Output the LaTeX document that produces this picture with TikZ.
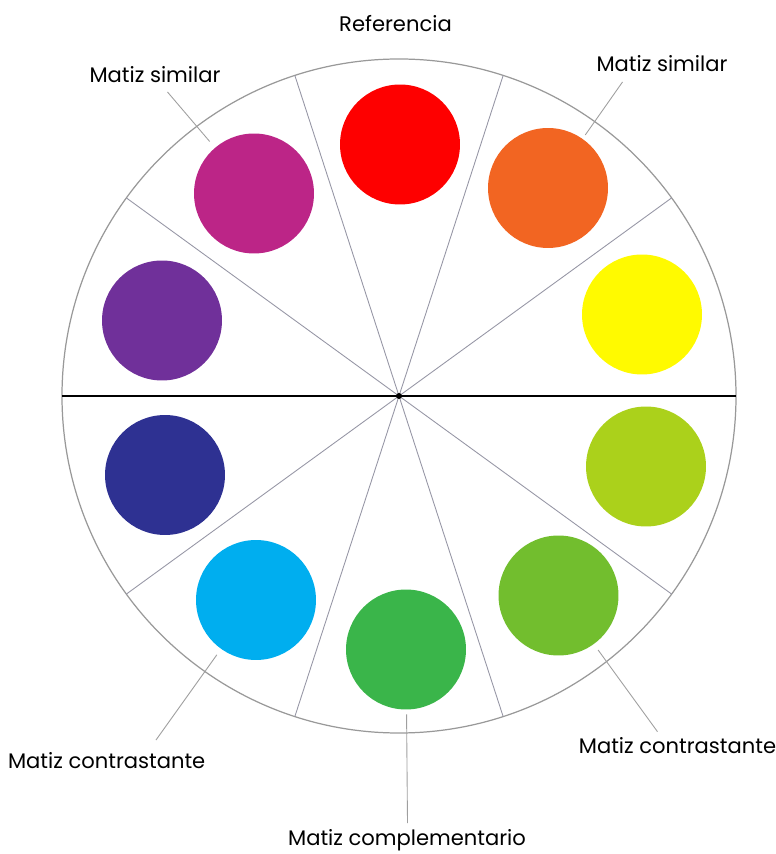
\documentclass[tikz,border=0pt]{standalone}
\usepackage{fontspec}
\setmainfont{Poppins}
\usetikzlibrary{calc}

\definecolor{rojo}{HTML}{FE0000}
\definecolor{naranja}{HTML}{F26522}
\definecolor{amarillo}{HTML}{FFFA00}
\definecolor{limon}{HTML}{ABD11B}
\definecolor{verdeclaro}{HTML}{72BE2E}
\definecolor{verde}{HTML}{3AB54A}
\definecolor{celeste}{HTML}{00AEEF}
\definecolor{azul}{HTML}{2E3192}
\definecolor{violeta}{HTML}{70309A}
\definecolor{magenta}{HTML}{BC2587}
\definecolor{trazo}{RGB}{150,150,165}

\begin{document}
\begin{tikzpicture}[x=0.02cm,y=0.02cm,
  disco/.style={circle,inner sep=0,minimum size=2.4cm},
  radio/.style={draw=trazo,line width=0.5pt},
  guia/.style={draw=gray!75,line width=0.5pt},
  rotulo/.style={anchor=base,inner sep=0,font=\fontsize{12}{14}\selectfont}]
\useasboundingbox (-399,-458) rectangle (377,396);
\draw[gray!80,line width=0.7pt] (0,0) circle (337);
\foreach \a in {36,72,108,144,216,252,288,324}
  \draw[radio] (0,0) -- (\a:337);
\draw[line width=1.1pt] (180:337) -- (0:337);
\fill (0,0) circle (3);
\node[disco,fill=rojo] (rojo) at (1,251.5) {};
\node[disco,fill=naranja] (naranja) at (149,208) {};
\node[disco,fill=amarillo] (amarillo) at (243,81.5) {};
\node[disco,fill=limon] (limon) at (247,-70.5) {};
\node[disco,fill=verdeclaro] (verdeclaro) at (159.5,-199.5) {};
\node[disco,fill=verde] (verde) at (7,-253.5) {};
\node[disco,fill=celeste] (celeste) at (-143,-204) {};
\node[disco,fill=azul] (azul) at (-234,-79) {};
\node[disco,fill=violeta] (violeta) at (-237,75.5) {};
\node[disco,fill=magenta] (magenta) at (-145,202.5) {};
\node[rotulo] (ref) at (-3.5,364.3) {Referencia};
\node[rotulo] (simL) at (-244,313) {Matiz similar};
\node[rotulo] (simR) at (263,324.3) {Matiz similar};
\node[rotulo] (contL) at (-292.3,-372) {Matiz contrastante};
\node[rotulo] (contR) at (278.5,-357) {Matiz contrastante};
\node[rotulo] (comp) at (8,-449) {Matiz complementario};
\coordinate (pSimL) at (-231.5,304);
\coordinate (pSimR) at (223.5,314);
\coordinate (pContL) at (-243,-344);
\coordinate (pContR) at (258.5,-335.7);
\coordinate (pComp) at (8.5,-427);
\draw[guia,shorten >=0.16cm] (pSimL) -- (magenta);
\draw[guia,shorten >=0.09cm] (pSimR) -- (naranja);
\draw[guia,shorten >=0.14cm] (pContL) -- (celeste);
\draw[guia,shorten >=0.14cm] (pContR) -- (verdeclaro);
\draw[guia,shorten >=0.09cm] (pComp) -- (verde);
\end{tikzpicture}
\end{document}
